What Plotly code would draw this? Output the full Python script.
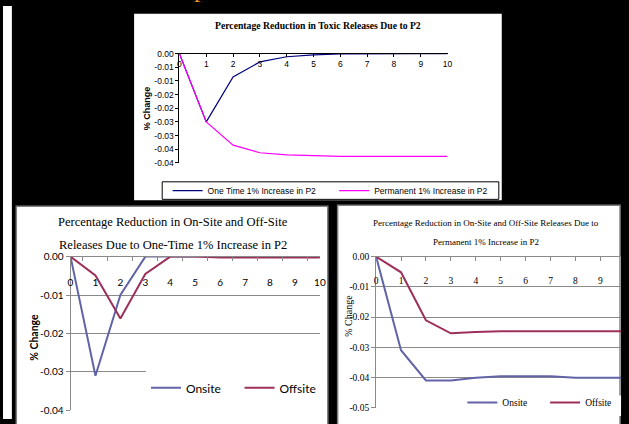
import plotly.graph_objects as go

W, H = 629, 424

# ---- data -------------------------------------------------------------
periods = list(range(11))
period_labels = [str(p) for p in periods]

# Toxic releases, % change
one_time_total = [0, -0.025, -0.0085, -0.003, -0.0011, -0.0004, -0.0001, 0, 0, 0, 0]
permanent_total = [0, -0.025, -0.0335, -0.0363, -0.0371, -0.0374, -0.0376,
                   -0.0376, -0.0376, -0.0376, -0.0376]

# On-site / off-site, one-time 1% increase
onsite_one_time = [0, -0.031, -0.0100, 0, 0, 0, 0, 0, 0, 0, 0]
offsite_one_time = [0, -0.0049, -0.0161, -0.0045, 0, 0, -0.0002, -0.0002,
                    -0.0002, -0.0002, -0.0002]

# On-site / off-site, permanent 1% increase
onsite_permanent = [0, -0.031, -0.041, -0.041, -0.0401, -0.0396, -0.0396,
                    -0.0396, -0.0401, -0.0401, -0.0401]
offsite_permanent = [0, -0.0052, -0.0211, -0.0254, -0.0250, -0.0247, -0.0247,
                     -0.0247, -0.0247, -0.0247, -0.0247]

top_ytick_vals = [0, -0.005, -0.01, -0.015, -0.02, -0.025, -0.03, -0.035, -0.04]
top_ytick_text = ["0.00", "-0.01", "-0.01", "-0.02", "-0.02", "-0.03", "-0.03",
                  "-0.04", "-0.04"]
left_ytick_vals = [0, -0.01, -0.02, -0.03, -0.04]
left_ytick_text = ["0.00", "-0.01", "-0.02", "-0.03", "-0.04"]
right_ytick_vals = [0, -0.01, -0.02, -0.03, -0.04, -0.05]
right_ytick_text = ["0.00", "-0.01", "-0.02", "-0.03", "-0.04", "-0.05"]


def fx(p):
    return p / W


def fy(p):
    return 1 - p / H


ARIAL = "Liberation Sans, Arial, sans-serif"
TIMES = "Liberation Serif, Times New Roman, serif"
CALIBRI = "Lato, Liberation Sans, sans-serif"

NAVY = "#000080"
MAGENTA = "#FF00FF"
ONSITE = "#6264A8"
OFFSITE = "#9E2F5B"
GRID = "#8A8A8A"

fig = go.Figure()

# top chart
fig.add_trace(go.Scatter(x=periods, y=one_time_total, mode="lines",
                         name="One Time 1% Increase in P2",
                         line=dict(color=NAVY, width=1.2),
                         xaxis="x", yaxis="y", legend="legend"))
fig.add_trace(go.Scatter(x=periods, y=permanent_total, mode="lines",
                         name="Permanent 1% Increase in P2",
                         line=dict(color=MAGENTA, width=1.2),
                         xaxis="x", yaxis="y", legend="legend2"))

# bottom-left chart
fig.add_trace(go.Scatter(x=period_labels, y=onsite_one_time, mode="lines",
                         name="Onsite", line=dict(color=ONSITE, width=2),
                         xaxis="x2", yaxis="y2", legend="legend3"))
fig.add_trace(go.Scatter(x=period_labels, y=offsite_one_time, mode="lines",
                         name="Offsite", line=dict(color=OFFSITE, width=2),
                         xaxis="x2", yaxis="y2", legend="legend4"))

# bottom-right chart
fig.add_trace(go.Scatter(x=periods, y=onsite_permanent, mode="lines",
                         name="Onsite", line=dict(color=ONSITE, width=2),
                         xaxis="x3", yaxis="y3", legend="legend5"))
fig.add_trace(go.Scatter(x=periods, y=offsite_permanent, mode="lines",
                         name="Offsite", line=dict(color=OFFSITE, width=2),
                         xaxis="x3", yaxis="y3", legend="legend6"))


def rect(x0, x1, y0, y1, fill="white", line=None, layer="below"):
    return dict(type="rect", xref="paper", yref="paper",
                x0=fx(x0), x1=fx(x1), y0=fy(y1), y1=fy(y0),
                fillcolor=fill, line=line or dict(width=0), layer=layer)


def legend_at(x, y, family, size):
    return dict(orientation="h", x=fx(x), y=fy(y), xanchor="left",
                yanchor="middle", bgcolor="rgba(0,0,0,0)", borderwidth=0,
                font=dict(family=family, size=size, color="black"))


def label(text, x, y, family, size, angle=0):
    return dict(text=text, x=fx(x), y=fy(y), xref="paper", yref="paper",
                showarrow=False, xanchor="center", yanchor="middle",
                textangle=angle,
                font=dict(family=family, size=size, color="black"))


shapes = [
    # white strip on the far left
    rect(0, 9, 0, 424),
    # panels
    rect(133, 506, 8, 199.5),
    rect(13.5, 329.5, 205.5, 440, line=dict(color="#7F7F7F", width=1.5)),
    rect(339.5, 626, 204.5, 440, line=dict(color="#7F7F7F", width=1.5)),
    # legend frame of top chart
    rect(161.5, 503, 180.5, 198.5, line=dict(color="black", width=1)),
    # legend backgrounds of bottom charts
    rect(145, 324, 370, 404, layer="above"),
    rect(460, 627, 400, 421, layer="above"),
]

annotations = [
    dict(text="p", x=fx(200), y=1 + 18 / H, xref="paper", yref="paper",
         showarrow=False, xanchor="center", yanchor="middle",
         font=dict(family=TIMES, size=26, color="#EE8E22")),
    # top chart
    label("<b>Percentage Reduction in Toxic Releases Due to P2</b>",
          320, 20.5, TIMES, 9.7),
    label("<b>% Change</b>", 146, 105, ARIAL, 9, -90),
    # bottom-left chart
    label("Percentage Reduction in On-Site and Off-Site", 172.5, 222, TIMES, 12.5),
    label("Releases Due to One-Time 1% Increase in P2", 172.5, 245, TIMES, 12.5),
    label("<b>% Change</b>", 32, 340, CALIBRI, 10.5, -90),
    # bottom-right chart
    label("Percentage Reduction in On-Site and Off-Site Releases Due to",
          490, 223, TIMES, 9),
    label("Permanent 1% Increase in P2", 490, 242, TIMES, 9),
    label("% Change", 351, 318, TIMES, 10, -90),
]

fig.update_layout(
    width=W, height=H,
    margin=dict(l=0, r=0, t=0, b=0),
    paper_bgcolor="black",
    plot_bgcolor="white",
    showlegend=True,
    shapes=shapes,
    annotations=annotations,
    xaxis=dict(domain=[fx(179), fx(451)], range=[0, 10], anchor="y",
               side="top", tickvals=periods, ticktext=period_labels,
               showline=True, linecolor="black", linewidth=1,
               ticks="inside", ticklen=3, tickcolor="black",
               ticklabelposition="inside", ticklabelstandoff=3,
               ticklabeloverflow="allow", showgrid=False, zeroline=False,
               tickfont=dict(family=ARIAL, size=8.5, color="black")),
    yaxis=dict(domain=[fy(161), fy(49)], range=[-0.04, 0], anchor="x",
               tickvals=top_ytick_vals, ticktext=top_ytick_text,
               showline=True, linecolor="black", linewidth=1,
               ticks="outside", ticklen=3, tickcolor="black",
               showgrid=False, zeroline=False,
               tickfont=dict(family=ARIAL, size=8.5, color="black")),
    xaxis2=dict(domain=[fx(68.5), fx(321.5)], type="category", anchor="y2",
                side="top", showline=True, linecolor=GRID, linewidth=1,
                ticks="inside", ticklen=4, tickcolor=GRID,
                tickson="boundaries", ticklabelposition="inside",
                ticklabelstandoff=17, ticklabeloverflow="allow",
                showgrid=False, zeroline=False,
                tickfont=dict(family=CALIBRI, size=10, color="black")),
    yaxis2=dict(domain=[fy(415), fy(257.3)], range=[-0.04, 0], anchor="x2",
                tickvals=left_ytick_vals, ticktext=left_ytick_text,
                showline=True, linecolor=GRID, linewidth=1,
                ticks="outside", ticklen=4, tickcolor=GRID,
                showgrid=True, gridcolor=GRID, gridwidth=1, zeroline=False,
                tickfont=dict(family=CALIBRI, size=10, color="black")),
    xaxis3=dict(domain=[fx(378.5), fx(627)], range=[0, 9.83], anchor="y3",
                side="top", tickvals=periods, ticktext=period_labels,
                showline=True, linecolor=GRID, linewidth=1,
                ticks="inside", ticklen=4, tickcolor=GRID,
                ticklabelposition="inside", ticklabelstandoff=16,
                ticklabeloverflow="allow", showgrid=False, zeroline=False,
                tickfont=dict(family=TIMES, size=9.5, color="black")),
    yaxis3=dict(domain=[fy(412.3), fy(257.3)], range=[-0.05, 0], anchor="x3",
                tickvals=right_ytick_vals, ticktext=right_ytick_text,
                showline=True, linecolor=GRID, linewidth=1,
                ticks="outside", ticklen=4, tickcolor=GRID,
                showgrid=True, gridcolor=GRID, gridwidth=1, zeroline=False,
                tickfont=dict(family=TIMES, size=9.5, color="black")),
    legend=legend_at(167, 189.5, ARIAL, 8.5),
    legend2=legend_at(336, 189.5, ARIAL, 8.5),
    legend3=legend_at(145, 392, CALIBRI, 12),
    legend4=legend_at(240, 392, CALIBRI, 12),
    legend5=legend_at(466, 407, TIMES, 9.5),
    legend6=legend_at(550, 407, TIMES, 9.5),
)

fig.write_html(
    "out.html",
    post_script="document.body.style.margin='0';"
                "document.body.style.overflow='hidden';",
)
